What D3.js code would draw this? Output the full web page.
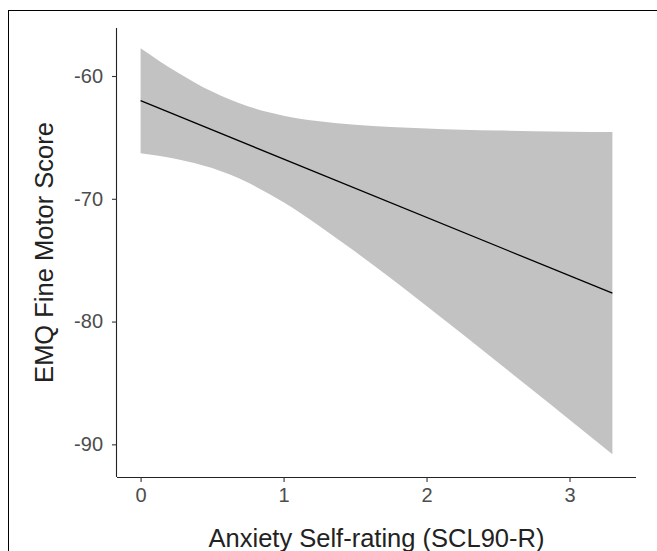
<!DOCTYPE html>
<html>
<head>
<meta charset="utf-8">
<script src="https://cdn.jsdelivr.net/npm/d3@7"></script>
<style>
  html, body { margin: 0; padding: 0; background: #fff; }
  svg { display: block; font-family: "Liberation Sans", Arial, sans-serif; }
</style>
</head>
<body>
<svg id="chart" width="657" height="551"></svg>
<script>
// Data
const bandX     = [0, 0.25, 0.5, 0.75, 1.0, 1.25, 1.5, 1.75, 2.0, 2.25, 2.5, 2.75, 3.0, 3.3];
const bandUpper = [-57.73, -59.65, -61.27, -62.46, -63.23, -63.69, -63.97, -64.16, -64.28, -64.38, -64.44, -64.49, -64.53, -64.57];
const bandLower = [-66.29, -66.75, -67.50, -68.68, -70.29, -72.21, -74.30, -76.48, -78.74, -81.02, -83.33, -85.65, -87.99, -90.80];
const lineX     = [0, 3.3];
const lineY     = [-62.01, -77.69];
const xTicks    = [0, 1, 2, 3];
const yTicks    = [-60, -70, -80, -90];
const xTitle    = "Anxiety Self-rating (SCL90-R)";
const yTitle    = "EMQ Fine Motor Score";

(function () {
const svg = d3.select("#chart");

// outer frame (cropped at right/bottom)
svg.append("rect")
  .attr("x", 8.5).attr("y", 10.5).attr("width", 700).attr("height", 600)
  .attr("fill", "none").attr("stroke", "#000").attr("stroke-width", 1);

const pL = 117, pR = 636, pT = 28, pB = 477;

const x = d3.scaleLinear().domain([-0.165, 3.465]).range([pL, pR]);
const y = d3.scaleLinear().domain([-92.66, -56.09]).range([pB, pT]);

const band = bandX.map((d, i) => ({x: d, lo: bandLower[i], hi: bandUpper[i]}));
const area = d3.area()
  .x(d => x(d.x)).y0(d => y(d.lo)).y1(d => y(d.hi))
  .curve(d3.curveMonotoneX);
svg.append("path").datum(band)
  .attr("d", area).attr("fill", "#c2c2c2");

const line = d3.line().x(d => x(d.x)).y(d => y(d.y));
svg.append("path").datum(lineX.map((d, i) => ({x: d, y: lineY[i]})))
  .attr("d", line).attr("fill", "none").attr("stroke", "#000").attr("stroke-width", 1.3);

// axes
const xAxis = svg.append("g").attr("transform", `translate(0,${pB})`)
  .call(d3.axisBottom(x).tickValues(xTicks).tickSize(5).tickPadding(6).tickFormat(d3.format("d")));
const yAxis = svg.append("g").attr("transform", `translate(${pL},0)`)
  .call(d3.axisLeft(y).tickValues(yTicks).tickSize(5).tickPadding(9).tickFormat(d => String(d)));

[xAxis, yAxis].forEach(g => {
  g.select(".domain").attr("stroke", "#222").attr("stroke-width", 1.1);
  g.selectAll(".tick line").attr("stroke", "#333").attr("stroke-width", 1.1);
  g.selectAll(".tick text").attr("fill", "#4d4d4d")
    .style("font-size", "20px").style("font-family", "'Liberation Sans', Arial, sans-serif");
});
// domain lines without outer ticks
xAxis.select(".domain").attr("d", `M${pL},0.5H${pR}`);
yAxis.select(".domain").attr("d", `M-0.5,${pB}V${pT}`);

// titles
svg.append("text")
  .attr("x", (pL + pR) / 2).attr("y", 547)
  .attr("text-anchor", "middle")
  .style("font-size", "25.5px").attr("fill", "#222")
  .text(xTitle);

svg.append("text")
  .attr("transform", `translate(53,${(pT + pB) / 2}) rotate(-90)`)
  .attr("text-anchor", "middle")
  .style("font-size", "25.5px").attr("fill", "#222")
  .text(yTitle);
})();
</script>
</body>
</html>
